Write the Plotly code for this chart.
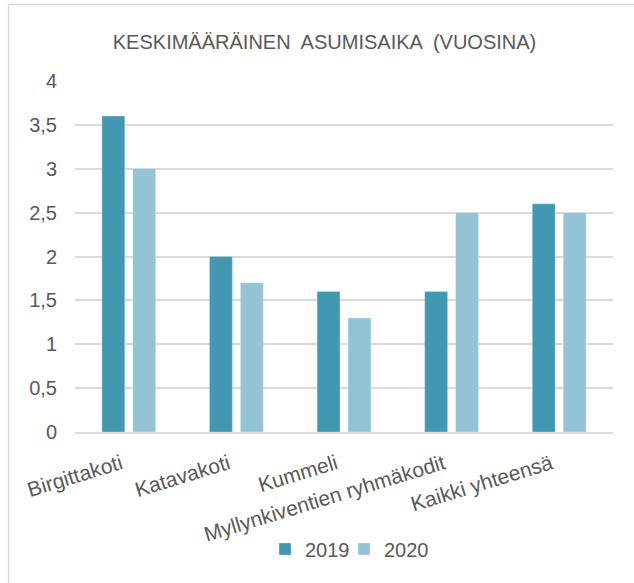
import plotly.graph_objects as go

# Average length of residence (years) per unit
categories = ["Birgittakoti", "Katavakoti", "Kummeli",
              "Myllynkiventien ryhmäkodit", "Kaikki yhteensä"]
years_2019 = [3.6, 2.0, 1.6, 1.6, 2.6]
years_2020 = [3.0, 1.7, 1.3, 2.5, 2.5]
series_names = ["2019", "2020"]
tick_vals = [0, 0.5, 1, 1.5, 2, 2.5, 3, 3.5, 4]
tick_text = ["0", "0,5", "1", "1,5", "2", "2,5", "3", "3,5", "4"]

FONT = "Liberation Sans, Arial, sans-serif"
TEXT = "#595959"
GRID = "#d9d9d9"
COLORS = ["#4298b0", "#93c4d6"]
LEGEND_WIDTHS = [34, None]

W, H = 634, 583
L, R, T, B = 75, 21, 81, 151
pw, ph = W - L - R, H - T - B

fig = go.Figure()
for name, vals, col, lw in zip(series_names, [years_2019, years_2020], COLORS, LEGEND_WIDTHS):
    fig.add_trace(go.Bar(
        x=categories, y=vals, name=name, legendwidth=lw,
        marker=dict(color=col, line=dict(color="rgba(255,255,255,0.5)", width=0.5)),
    ))

def px_x(px):
    return (px - L) / pw

def px_y(py):
    return (H - B - py) / ph

fig.update_layout(
    width=W, height=H,
    margin=dict(l=L, r=R, t=T, b=B),
    paper_bgcolor="white", plot_bgcolor="white",
    barmode="group", bargap=0.425, bargroupgap=0.26,
    font=dict(family=FONT, color=TEXT, size=20),
    title=dict(
        text="KESKIMÄÄRÄINEN  ASUMISAIKA  (VUOSINA)",
        x=324.5 / W, xanchor="center", xref="container",
        y=1 - 42 / H, yanchor="middle", yref="container",
        font=dict(family=FONT, size=20, color=TEXT),
    ),
    legend=dict(
        orientation="h", x=px_x(349.5), xanchor="center",
        y=px_y(549), yanchor="middle",
        font=dict(family=FONT, size=20, color=TEXT),
        itemwidth=30, tracegroupgap=0,
    ),
    showlegend=True,
)

fig.update_yaxes(
    range=[0, 4], tickvals=tick_vals, ticktext=tick_text,
    showgrid=True, gridcolor=GRID, gridwidth=1.5,
    zeroline=False, showline=False, ticks="",
    ticklabelstandoff=17,
    tickfont=dict(family=FONT, size=20, color=TEXT),
)
fig.update_xaxes(
    showline=True, linecolor=GRID, linewidth=1.5,
    showgrid=False, ticks="", tickangle=-17,
    ticklabelstandoff=10, ticklabelshift=-8,
    tickfont=dict(family=FONT, size=21, color=TEXT),
)

# Light frame around the chart area (right and bottom edges fall outside the page)
fig.add_shape(type="line", xref="paper", yref="paper",
              x0=px_x(8.5), x1=px_x(8.5), y0=px_y(H + 60), y1=px_y(4.5),
              line=dict(color=GRID, width=1.5), layer="below")
fig.add_shape(type="line", xref="paper", yref="paper",
              x0=px_x(8.5), x1=px_x(W + 60), y0=px_y(4.5), y1=px_y(4.5),
              line=dict(color=GRID, width=1.5), layer="below")

fig.write_html("out.html")
